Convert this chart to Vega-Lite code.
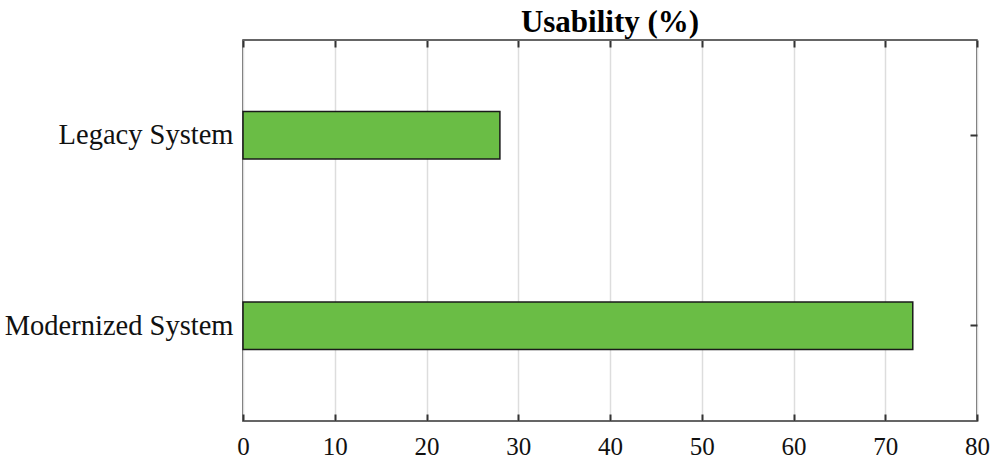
{
  "$schema": "https://vega.github.io/schema/vega-lite/v6.json",
  "width": 734,
  "height": 381,
  "autosize": {"type": "none"},
  "padding": {"left": 243, "top": 40, "right": 19, "bottom": 43},
  "background": "white",
  "config": {
    "font": "Liberation Serif",
    "view": {"stroke": "#333333", "strokeWidth": 1.5}
  },
  "title": {
    "text": "Usability (%)",
    "font": "Liberation Serif",
    "fontSize": 31,
    "fontWeight": "bold",
    "color": "#000000",
    "anchor": "middle",
    "offset": 0
  },
  "data": {
    "values": [
      {"system": "Legacy System", "usability": 28},
      {"system": "Modernized System", "usability": 73}
    ]
  },
  "layer": [
    {
      "mark": {"type": "bar", "color": "#6abd45", "stroke": "#1a1a1a", "strokeWidth": 1.5},
      "encoding": {
        "x": {
          "field": "usability", "type": "quantitative",
          "scale": {"domain": [0, 80], "nice": false},
          "axis": {
            "title": null, "orient": "bottom",
            "values": [0, 10, 20, 30, 40, 50, 60, 70, 80],
            "grid": true, "gridColor": "#dddddd", "gridWidth": 1.5,
            "domain": false, "tickSize": -7, "tickWidth": 2, "tickColor": "#333333",
            "labelFont": "Liberation Serif", "labelFontSize": 25, "labelColor": "#111111",
            "labelPadding": 20, "labelFlush": false, "labelOverlap": false
          }
        },
        "y": {
          "field": "system", "type": "nominal",
          "sort": ["Legacy System", "Modernized System"],
          "scale": {"paddingInner": 0.75, "paddingOuter": 0.375},
          "axis": {
            "title": null, "orient": "left",
            "domain": false, "tickSize": -7, "tickWidth": 2, "tickColor": "#333333",
            "labelFont": "Liberation Serif", "labelFontSize": 28.5, "labelColor": "#111111",
            "labelPadding": 17, "labelLimit": 400
          }
        }
      }
    },
    {
      "mark": {"type": "bar", "opacity": 0},
      "encoding": {
        "x": {
          "field": "usability", "type": "quantitative",
          "scale": {"domain": [0, 80], "nice": false},
          "axis": {
            "title": null, "orient": "top",
            "values": [0, 10, 20, 30, 40, 50, 60, 70, 80],
            "grid": false, "labels": false,
            "domain": false, "tickSize": -7, "tickWidth": 2, "tickColor": "#333333"
          }
        },
        "y": {
          "field": "system", "type": "nominal",
          "sort": ["Legacy System", "Modernized System"],
          "scale": {"paddingInner": 0.75, "paddingOuter": 0.375},
          "axis": {
            "title": null, "orient": "right",
            "grid": false, "labels": false,
            "domain": false, "tickSize": -7, "tickWidth": 2, "tickColor": "#333333"
          }
        }
      }
    }
  ],
  "resolve": {"axis": {"x": "independent", "y": "independent"}}
}
